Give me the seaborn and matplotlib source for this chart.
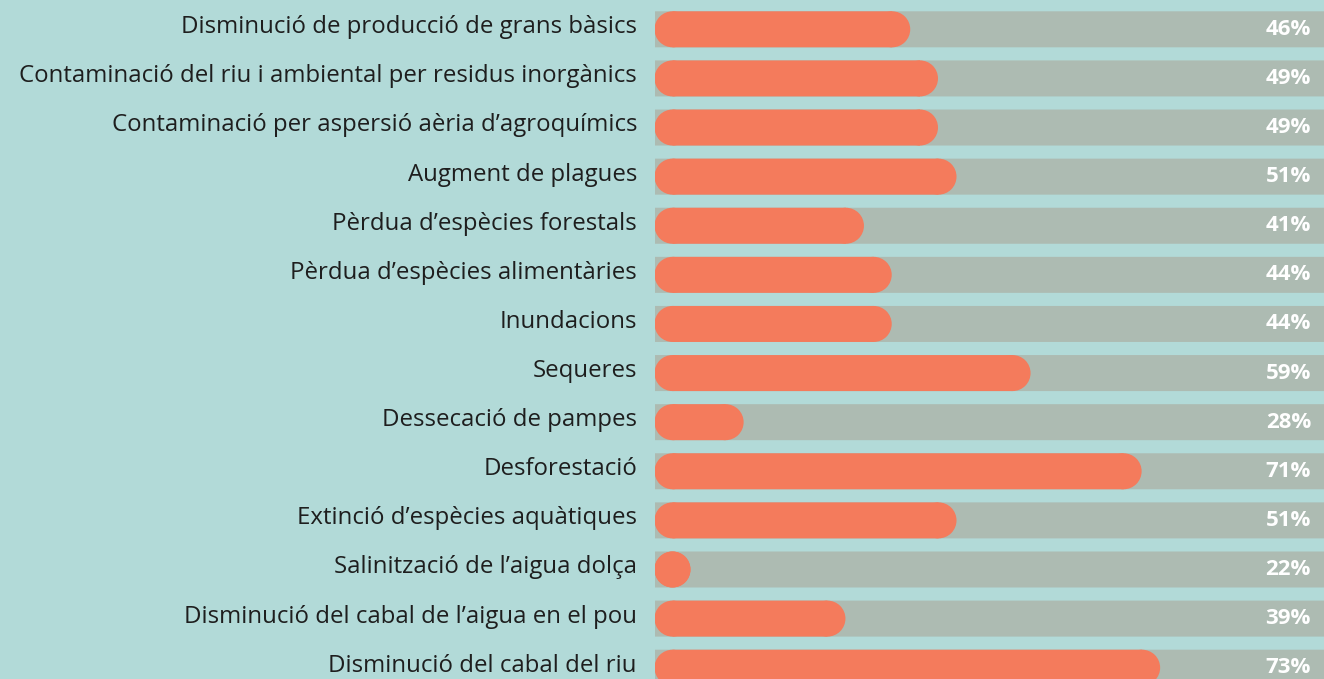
import seaborn as sns
import matplotlib.pyplot as plt
from matplotlib.patches import Ellipse, Rectangle

# Dades
categories = [
    "Disminució de producció de grans bàsics",
    "Contaminació del riu i ambiental per residus inorgànics",
    "Contaminació per aspersió aèria d’agroquímics",
    "Augment de plagues",
    "Pèrdua d’espècies forestals",
    "Pèrdua d’espècies alimentàries",
    "Inundacions",
    "Sequeres",
    "Dessecació de pampes",
    "Desforestació",
    "Extinció d’espècies aquàtiques",
    "Salinització de l’aigua dolça",
    "Disminució del cabal de l’aigua en el pou",
    "Disminució del cabal del riu",
]
values = [46, 49, 49, 51, 41, 44, 44, 59, 28, 71, 51, 22, 39, 73]
track = [100] * len(values)

BG = "#b2dad8"
GREY = "#adbbb2"
ORANGE = "#f47b5c"
FONT = "Open Sans"

X_LEFT, X_RIGHT = 18.37, 90.65
ROW_PX = 49.1
BAR_PX = 36

fig = plt.figure(figsize=(13.24, 6.79), dpi=100)
fig.set_facecolor(BG)
ax = fig.add_axes([654.5 / 1324, 0, 669 / 1324, 1])
ax.set_facecolor(BG)

sns.barplot(x=track, y=categories, color=GREY, width=BAR_PX / ROW_PX,
            orient="h", saturation=1, ax=ax)
sns.barplot(x=values, y=categories, color=ORANGE, width=BAR_PX / ROW_PX,
            orient="h", saturation=1, ax=ax)

ax.set_xlim(X_LEFT, X_RIGHT)
ax.set_ylim(13.23, -0.597)

for p in ax.containers[0]:
    p.set_snap(False)

# barres taronja arrodonides: rectangle + dos extrems el·líptics
px_per_unit = 669 / (X_RIGHT - X_LEFT)
r = (BAR_PX / 2) / px_per_unit
for p in ax.containers[1]:
    y0, h = p.get_y(), p.get_height()
    yc = y0 + h / 2
    xa = X_LEFT + r
    xb = max(p.get_x() + p.get_width() - r, xa)
    ax.add_patch(Rectangle((xa, y0), xb - xa, h, facecolor=ORANGE,
                           edgecolor="none", zorder=3, snap=False))
    for xc in (xa, xb):
        ax.add_patch(Ellipse((xc, yc), 2 * r, h, facecolor=ORANGE,
                             edgecolor="none", zorder=3))
    p.set_visible(False)

# etiquetes de percentatge
for i, v in enumerate(values):
    ax.annotate(f"{v}%", xy=(1, i), xycoords=ax.get_yaxis_transform(),
                xytext=(-9, 0), textcoords="offset points",
                ha="right", va="center", color="white",
                fontsize=16, fontweight="bold", family=FONT, zorder=4)

# etiquetes de categoria
for i, c in enumerate(categories):
    ax.annotate(c, xy=(0, i), xycoords=ax.get_yaxis_transform(),
                xytext=(-12.6, 1.5), textcoords="offset points",
                ha="right", va="center", color="#1e1e1e",
                fontsize=17.3, family=FONT, annotation_clip=False)

ax.set_xlabel("")
ax.set_ylabel("")
ax.set_xticks([])
ax.set_yticks([])
for s in ax.spines.values():
    s.set_visible(False)

fig.savefig("out.png", dpi=100, facecolor=BG)
